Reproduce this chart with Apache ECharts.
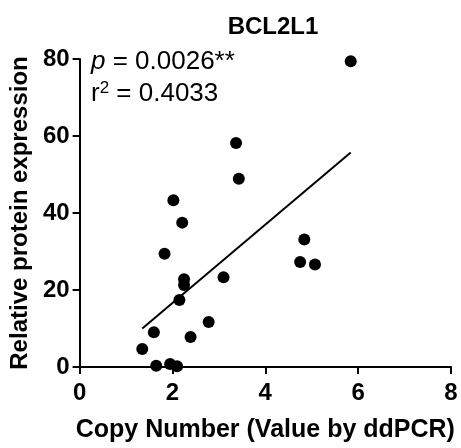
<!DOCTYPE html>
<html>
<head>
<meta charset="utf-8">
<script src="https://cdn.jsdelivr.net/npm/echarts@6/dist/echarts.min.js"></script>
<style>
  html, body { margin: 0; padding: 0; background: #fff; }
  #viewData { width: 461px; height: 448px; }
</style>
</head>
<body>
<div id="viewData"></div>
<script>
// copy number (ddPCR) vs relative protein expression
var copyNumber = [5.84, 3.37, 3.43, 2.02, 2.21, 1.83, 2.25, 2.25, 3.10, 2.15,
                  2.78, 1.60, 2.39, 1.35, 1.65, 1.95, 2.10, 4.84, 4.75, 5.07];
var proteinExpr = [79.4, 58.2, 48.9, 43.3, 37.5, 29.4, 22.8, 21.3, 23.3, 17.4,
                   11.7, 9.0, 7.8, 4.7, 0.3, 0.8, 0.2, 33.1, 27.3, 26.6];
// linear fit end points
var fitX = [1.35, 5.84];
var fitY = [10.0, 55.7];
var xTicks = [0, 2, 4, 6, 8];
var yTicks = [0, 20, 40, 60, 80];

var font = '"Liberation Sans", Arial, sans-serif';

var points = copyNumber.map(function (x, i) { return [x, proteinExpr[i]]; });
var fitLine = fitX.map(function (x, i) { return [x, fitY[i]]; });

var axisCommon = {
  type: 'value',
  nameLocation: 'middle',
  nameTextStyle: { fontFamily: font, fontWeight: 'bold', fontSize: 24, color: '#000' },
  axisLine: { show: true, lineStyle: { color: '#000', width: 2 } },
  axisTick: { show: true, inside: false, length: 7, lineStyle: { color: '#000', width: 2 } },
  axisLabel: { fontFamily: font, fontWeight: 'bold', fontSize: 24, color: '#000' },
  splitLine: { show: false }
};

var myChart = echarts.init(document.getElementById('viewData'));

var option = {
  animation: false,
  backgroundColor: '#fff',
  title: {
    text: 'BCL2L1',
    left: 268,
    top: 10,
    textAlign: 'center',
    textStyle: { fontFamily: font, fontWeight: 'bold', fontSize: 24, color: '#000' }
  },
  grid: { left: 78, right: 10, top: 59, bottom: 81 },
  xAxis: Object.assign({}, axisCommon, {
    name: 'Copy Number (Value by ddPCR)',
    nameGap: 51,
    nameTextStyle: Object.assign({}, axisCommon.nameTextStyle, { fontSize: 25 }),
    min: xTicks[0],
    max: xTicks[xTicks.length - 1],
    interval: 2,
    axisLabel: Object.assign({}, axisCommon.axisLabel, { margin: 14 })
  }),
  yAxis: Object.assign({}, axisCommon, {
    name: 'Relative protein expression',
    nameGap: 47,
    min: yTicks[0],
    max: yTicks[yTicks.length - 1],
    interval: 20,
    axisLabel: Object.assign({}, axisCommon.axisLabel, { margin: 10 })
  }),
  graphic: [
    {
      type: 'text',
      left: 91,
      top: 49,
      style: {
        text: '{i|p} = 0.0026**',
        fontFamily: font,
        fontSize: 26,
        fill: '#000',
        rich: { i: { fontFamily: font, fontStyle: 'italic', fontSize: 26 } }
      }
    },
    {
      type: 'text',
      left: 91,
      top: 80,
      style: {
        text: 'r{s|2} = 0.4033',
        fontFamily: font,
        fontSize: 26,
        fill: '#000',
        rich: { s: { fontFamily: font, fontSize: 17, verticalAlign: 'top', padding: [0, 0, 10, 0] } }
      }
    }
  ],
  series: [
    {
      type: 'line',
      data: fitLine,
      symbol: 'none',
      lineStyle: { color: '#000', width: 2 },
      z: 2
    },
    {
      type: 'scatter',
      data: points,
      symbol: 'circle',
      symbolSize: 12,
      itemStyle: { color: '#000', opacity: 1 },
      z: 3
    }
  ]
};

myChart.setOption(option);
</script>
</body>
</html>
